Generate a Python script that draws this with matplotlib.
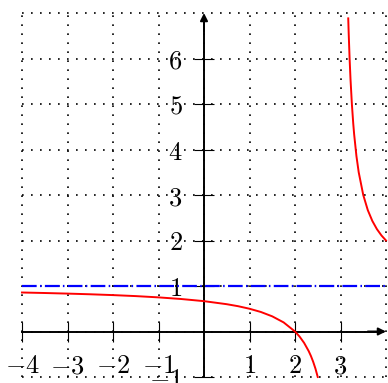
import matplotlib
matplotlib.use("Agg")
import matplotlib.pyplot as plt

plt.rcParams['mathtext.fontset'] = 'cm'
plt.rcParams['font.family'] = ['DejaVu Sans']

# Curve f(x): left branch and right branch
left_x = [-4.0, -3.5, -3.0, -2.5, -2.0, -1.5, -1.0, -0.5, 0.0, 0.5, 0.75, 1.0,
          1.25, 1.5, 1.75, 2.0, 2.1, 2.2, 2.3, 2.35, 2.4, 2.45, 2.5]
left_y = [0.857, 0.846, 0.833, 0.818, 0.800, 0.778, 0.750, 0.714, 0.667, 0.600,
          0.556, 0.500, 0.429, 0.333, 0.200, 0.000, -0.111, -0.250, -0.429,
          -0.538, -0.667, -0.818, -1.000]
right_x = [3.17, 3.18, 3.2, 3.22, 3.25, 3.28, 3.3, 3.35, 3.4, 3.5, 3.6, 3.7,
           3.8, 3.9, 4.0]
right_y = [6.882, 6.556, 6.000, 5.545, 5.000, 4.571, 4.333, 3.857, 3.500, 3.000,
           2.667, 2.429, 2.250, 2.111, 2.000]

asymptote_y = 1.0
asymptote_x_range = [-4.0, 4.0]

grid_x = [-4, -3, -2, -1, 0, 1, 2, 3, 4]
grid_y = [-1, 0, 1, 2, 3, 4, 5, 6, 7]

x_ticks = [-4, -3, -2, -1, 1, 2, 3]
x_tick_labels = ['$-4$', '$-3$', '$-2$', '$-1$', '$1$', '$2$', '$3$']
y_ticks = [-1, 1, 2, 3, 4, 5, 6]
y_tick_labels = ['$-1$', '$1$', '$2$', '$3$', '$4$', '$5$', '$6$']

W, H, DPI = 388, 383, 100
fig = plt.figure(figsize=(W / DPI, H / DPI), dpi=DPI)
ax = fig.add_axes([0, 0, 1, 1])

ppu = 45.5  # pixels per unit
xmin = -4 - 22 / ppu
xmax = xmin + W / ppu
ymin = -1 - 6 / ppu
ymax = ymin + H / ppu
ax.set_xlim(xmin, xmax)
ax.set_ylim(ymin, ymax)

dot = (0, (1.0, 4.4))
ax.vlines(grid_x, grid_y[0], grid_y[-1], colors='black', linestyles=dot,
          linewidth=1.2, zorder=1)
ax.hlines(grid_y, grid_x[0], grid_x[-1], colors='black', linestyles=dot,
          linewidth=1.2, zorder=1)

ax.plot(asymptote_x_range, [asymptote_y, asymptote_y], color='#0000ff',
        linewidth=1.6, linestyle=(0, (6.6, 1.5, 0.7, 1.5)), zorder=2)

ax.plot(left_x, left_y, color='#ff0000', linewidth=1.4, zorder=4,
        solid_joinstyle='round')
ax.plot(right_x, right_y, color='#ff0000', linewidth=1.4, zorder=4,
        solid_joinstyle='round')

for s in ['top', 'right']:
    ax.spines[s].set_visible(False)
ax.spines['left'].set_position(('data', 0))
ax.spines['bottom'].set_position(('data', 0))
ax.spines['left'].set_bounds(-1, 6.8)
ax.spines['bottom'].set_bounds(-4, 3.8)
for s in ['left', 'bottom']:
    ax.spines[s].set_linewidth(1.4)
    ax.spines[s].set_zorder(3)

ax.annotate('', xy=(0, 7), xytext=(0, 6.6),
            arrowprops=dict(arrowstyle='-|>', color='black', lw=1.4,
                            mutation_scale=11, shrinkA=0, shrinkB=0), zorder=3)
ax.annotate('', xy=(4, 0), xytext=(3.6, 0),
            arrowprops=dict(arrowstyle='-|>', color='black', lw=1.4,
                            mutation_scale=11, shrinkA=0, shrinkB=0), zorder=3)

ax.set_xticks(x_ticks, x_tick_labels)
ax.set_yticks(y_ticks, y_tick_labels)
ax.tick_params(axis='both', direction='inout', length=15, width=0.8,
               labelsize=19, pad=8, color='black')

fig.savefig('out.png', dpi=DPI)
